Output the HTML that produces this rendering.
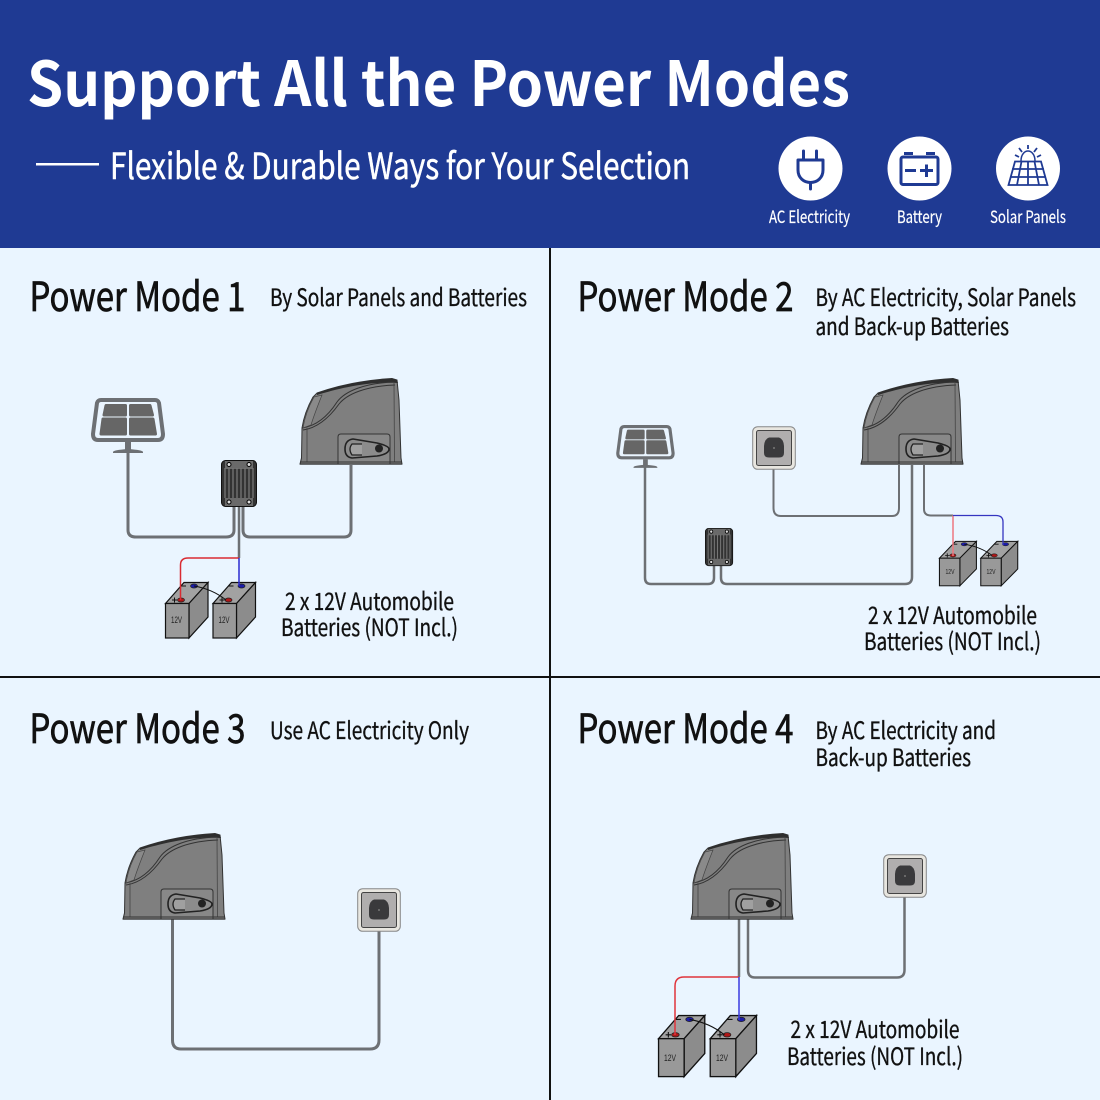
<!DOCTYPE html>
<html><head><meta charset="utf-8"><style>
html,body{margin:0;padding:0;background:#eaf5ff}
svg{display:block}
text{font-family:"Liberation Sans","Noto Sans CJK SC",sans-serif}
.n{font-family:"Noto Sans CJK SC","Liberation Sans",sans-serif}
.h{font-size:40px;fill:#111;stroke:#111;stroke-width:.7px}
.s{font-size:24px;fill:#111;stroke:#111;stroke-width:.35px}
.l{font-size:17px;fill:#fff;stroke:#fff;stroke-width:.2px}
.w{fill:none;stroke:#6d7074;stroke-width:3}
.t{fill:none;stroke:#6d7074;stroke-width:2}
.v{font-family:"Liberation Sans",sans-serif;font-size:9px;fill:#222;text-anchor:middle}
</style></head><body>
<svg width="1100" height="1100" viewBox="0 0 1100 1100" xmlns="http://www.w3.org/2000/svg">
<defs>
<g id="motor">
<path d="M300 464L301.500 458L302 428C304 415 308 406 313 397L317 393C340 385 365 380 392 378.500L397 380L399 400L401 458L402 464Z" fill="#7f7f7f" stroke="#333" stroke-width="1"/>
<path d="M317 393C340 385 365 380 392 378.500L397 380L398 383C370 381 340 388 317 395Z" fill="#2e2e2e"/>
<path d="M302 428C316 426 328 416 337 402C345 391 365 383 394 382" fill="none" stroke="#333" stroke-width="1"/>
<path d="M303 430C317 428 329 418 339 404C347 394 366 386 395 385" fill="none" stroke="#333" stroke-width="1"/>
<path d="M303 428C305 415 309 406 314 397L322 395C318 405 314 415 311 425Z" fill="#8a8a8a" stroke="#444" stroke-width=".7"/>
<path d="M307 462L307 428M394 383L394.500 462" stroke="#444" stroke-width=".8" fill="none"/>
<path d="M338 464L338 437Q338 434 341 434L387 434Q390 434 390 437L390 464" fill="#888" stroke="#333" stroke-width="1"/>
<path d="M353 439L377 443Q389 446 389 449Q389 454 377 456L352 458Q345 457 345 449Q345 440 353 439Z" fill="#8c8c8c" stroke="#222" stroke-width="1.600"/>
<path d="M362 444L352 444Q348 449 352 455L362 455" fill="#a0a0a0" stroke="#222" stroke-width="1.300"/>
<circle cx="379" cy="448.500" r="4" fill="#222"/>
<rect x="300" y="461.500" width="102" height="1" fill="#333"/>
<rect x="300" y="463.500" width="102" height="1.200" fill="#333"/>
</g>
<g id="panel">
<path d="M101 400L155 400Q158 400 159 403L163 434Q163 440 158 440L98 440Q93 440 93 434L97 403Q98 400 101 400Z" fill="#eaf5ff" stroke="#6d7074" stroke-width="4"/>
<g fill="#666" stroke="#666" stroke-width="3" stroke-linejoin="round">
<path d="M106 405.500L125.500 405.500L125.500 415L104 415Z"/>
<path d="M130.500 405.500L150 405.500L152.500 415L130.500 415Z"/>
<path d="M103 419L125.500 419L125.500 434L101 434Z"/>
<path d="M130.500 419L153 419L155.500 434L130.500 434Z"/>
</g>
<rect x="125" y="442" width="6" height="8" fill="#6d7074"/>
<path d="M113 452Q113 450 128 449Q143 450 143 452L143 453L113 453Z" fill="#6d7074"/>
</g>
<g id="ctrl">
<rect x="221.500" y="460.500" width="35" height="46" rx="4" fill="#333" stroke="#111" stroke-width="1"/>
<rect x="225" y="461" width="28" height="8" fill="#6a6a6a"/>
<rect x="225" y="498" width="28" height="8" fill="#6a6a6a"/>
<path d="M225 468V498M229 468V498M233 468V498M237 468V498M241 468V498M245 468V498M249 468V498M253 468V498" stroke="#777" stroke-width="1.300"/>
<circle cx="229" cy="464.500" r="2" fill="#ddd" stroke="#000"/><circle cx="249" cy="464.500" r="2" fill="#ddd" stroke="#000"/>
<circle cx="229" cy="502" r="2" fill="#ddd" stroke="#000"/><circle cx="249" cy="502" r="2" fill="#ddd" stroke="#000"/>
</g>
<g id="socket">
<rect x="0.700" y="0.700" width="42.600" height="42.600" rx="5" fill="#e8e6e0" stroke="#888" stroke-width="1"/>
<rect x="4.500" y="4.500" width="35" height="35" rx="2" fill="#b0aeae" stroke="#444" stroke-width="1"/>
<path d="M17 11.500L27 11.500Q31.500 13 32 20L32 27Q32 31.500 27 31.500L17 31.500Q12 31.500 12 27L12 20Q12.500 13 17 11.500Z" fill="#3a3a3c"/>
<circle cx="22" cy="22" r="1" fill="#777"/>
</g>
<g id="bat">
<path d="M165.500 603.500L184 582.500L208 582.500L189 603.500Z" fill="#a2a2a2" stroke="#111" stroke-width="1.200"/>
<path d="M189 603.500L208 582.500L208 617L189 638Z" fill="#8c8c8c" stroke="#111" stroke-width="1.200"/>
<rect x="165.500" y="603.500" width="23.500" height="34.500" fill="#999" stroke="#111" stroke-width="1.200"/>
<ellipse cx="181" cy="600" rx="3.500" ry="2" fill="#b01818" stroke="#222" stroke-width=".7"/>
<ellipse cx="194" cy="586" rx="3.500" ry="2" fill="#1c1ca8" stroke="#222" stroke-width=".7"/>
<path d="M172 600h5M174.500 597.500v5M186 586h-5" stroke="#111" stroke-width="1"/>
</g>
<g id="bats">
<use href="#bat"/>
<use href="#bat" x="47.500"/>
<path d="M194 586C206 588 216 592 226 600" fill="none" stroke="#111" stroke-width="1"/>
</g>
</defs>

<rect width="1100" height="1100" fill="#eaf5ff"/>
<rect width="1100" height="248" fill="#1f3a93"/>
<rect x="549" y="248" width="2" height="852" fill="#111"/>
<rect y="676" width="1100" height="2" fill="#111"/>

<text class="n" x="27" y="106" font-size="62" font-weight="700" fill="#fff" textLength="823" lengthAdjust="spacingAndGlyphs">Support All the Power Modes</text>
<rect x="36" y="163" width="63" height="2.500" fill="#fff"/>
<text class="n" x="110" y="179" font-size="36" fill="#fff" stroke="#fff" stroke-width=".5" textLength="580" lengthAdjust="spacingAndGlyphs">Flexible &amp; Durable Ways for Your Selection</text>

<circle cx="810.500" cy="168.500" r="32" fill="#fff"/>
<circle cx="919.500" cy="168.500" r="32" fill="#fff"/>
<circle cx="1028" cy="168.500" r="32" fill="#fff"/>
<g fill="none" stroke="#1f3a93" stroke-width="3">
<path d="M803.500 151V159M816.500 151V159" stroke-linecap="round"/>
<path d="M798 160H823V170C823 178 817 182.500 810.500 182.500C804 182.500 798 178 798 170ZM810.500 183V189" stroke-linejoin="round" stroke-linecap="round"/>
<rect x="901" y="157" width="37" height="27.500" rx="2"/>
<path d="M904 153.500H913M926 153.500H935M905 170.500H916M920 170.500H933M926.500 164.500V177"/>
<path d="M1015 161.500H1041L1047.500 185H1008.500ZM1012 169H1044M1010.500 177H1045.500M1021.500 161.500L1017 185M1028 161.500V185M1034.500 161.500L1039 185" stroke-width="1.800"/>
<path d="M1021 161C1021 154 1025 151 1028 151C1031 151 1035 154 1035 161" stroke-width="1.500"/>
<path d="M1028 145V149M1019 148L1022 152M1037 148L1034 152M1015 155L1019 157M1041 155L1037 157" stroke-width="1.800"/>
</g>
<text class="n l" x="769" y="223" textLength="81" lengthAdjust="spacingAndGlyphs">AC Electricity</text>
<text class="n l" x="897" y="223" textLength="45" lengthAdjust="spacingAndGlyphs">Battery</text>
<text class="n l" x="990" y="223" textLength="76" lengthAdjust="spacingAndGlyphs">Solar Panels</text>

<!-- Headings -->
<text class="n h" x="29.500" y="311" textLength="216" lengthAdjust="spacingAndGlyphs">Power Mode 1</text>
<text class="n s" x="270" y="306" textLength="257" lengthAdjust="spacingAndGlyphs">By Solar Panels and Batteries</text>
<text class="n h" x="577.500" y="311" textLength="216" lengthAdjust="spacingAndGlyphs">Power Mode 2</text>
<text class="n s" x="815.500" y="306" textLength="260.500" lengthAdjust="spacingAndGlyphs">By AC Electricity, Solar Panels</text>
<text class="n s" x="815.500" y="335" textLength="193.500" lengthAdjust="spacingAndGlyphs">and Back-up Batteries</text>
<text class="n h" x="29.500" y="743" textLength="216" lengthAdjust="spacingAndGlyphs">Power Mode 3</text>
<text class="n s" x="270" y="739" textLength="199" lengthAdjust="spacingAndGlyphs">Use AC Electricity Only</text>
<text class="n h" x="577.500" y="743" textLength="216" lengthAdjust="spacingAndGlyphs">Power Mode 4</text>
<text class="n s" x="815.500" y="739" textLength="180.500" lengthAdjust="spacingAndGlyphs">By AC Electricity and</text>
<text class="n s" x="815.500" y="766" textLength="155.500" lengthAdjust="spacingAndGlyphs">Back-up Batteries</text>

<text class="n s" x="285" y="610" textLength="169" lengthAdjust="spacingAndGlyphs">2 x 12V Automobile</text>
<text class="n s" x="281" y="636" textLength="177" lengthAdjust="spacingAndGlyphs">Batteries (NOT Incl.)</text>
<text class="n s" x="868" y="624" textLength="169" lengthAdjust="spacingAndGlyphs">2 x 12V Automobile</text>
<text class="n s" x="864" y="650" textLength="177" lengthAdjust="spacingAndGlyphs">Batteries (NOT Incl.)</text>
<text class="n s" x="790.500" y="1038" textLength="169" lengthAdjust="spacingAndGlyphs">2 x 12V Automobile</text>
<text class="n s" x="787" y="1065" textLength="176" lengthAdjust="spacingAndGlyphs">Batteries (NOT Incl.)</text>

<!-- Mode 1 -->
<path class="w" d="M128 450V530Q128 537 136 537H226Q234 537 234 530V505"/>
<path class="w" d="M243 505V530Q243 537 250 537H344Q351 537 351 530V465"/>
<path class="t" style="stroke-width:2.500px" d="M239 505V558"/>
<use href="#panel"/>
<use href="#motor"/>
<use href="#ctrl"/>
<use href="#bats"/>
<path d="M239 558H188Q180.500 558 180.500 565V600" fill="none" stroke="#d92b32" stroke-width="1.500"/>
<path d="M239 558V586" fill="none" stroke="#2a2ad0" stroke-width="1.500"/>
<text class="v" x="176.500" y="623" textLength="11" lengthAdjust="spacingAndGlyphs">12V</text>
<text class="v" x="224" y="623" textLength="11" lengthAdjust="spacingAndGlyphs">12V</text>

<!-- Mode 2 -->
<path class="t" style="stroke-width:2.500px" d="M645 462V578Q645 584 651 584H708Q714 584 714 578V565"/>
<path class="t" style="stroke-width:2.500px" d="M721 565V578Q721 584 727 584H905Q912 584 912 577V465"/>
<path class="t" d="M773.500 455V508Q773.500 516 781 516H892Q899 516 899 508V465"/>
<path class="t" d="M924 465V509Q924 515.500 931 515.500H953"/>
<use href="#panel" transform="translate(617 425) scale(.79 .78) translate(-92 -398)"/>
<use href="#socket" x="752" y="426"/>
<use href="#motor" x="561"/>
<use href="#ctrl" transform="translate(705 528) scale(.78 .81) translate(-221 -460)"/>
<use href="#bats" transform="translate(939 541) scale(.87 .8) translate(-165 -582)"/>
<path d="M953 515.500V556" fill="none" stroke="#ee7780" stroke-width="1.500"/>
<path d="M953 515.500H996Q1003 515.500 1003 522V545" fill="none" stroke="#3535c0" stroke-width="1.300"/>
<text class="v" x="950" y="574" style="font-size:7px" textLength="9" lengthAdjust="spacingAndGlyphs">12V</text>
<text class="v" x="991" y="574" style="font-size:7px" textLength="9" lengthAdjust="spacingAndGlyphs">12V</text>

<!-- Mode 3 -->
<path class="w" d="M172.500 919V1040Q172.500 1049 181 1049H370Q379 1049 379 1040V925"/>
<use href="#motor" x="-177" y="455"/>
<use href="#socket" x="357" y="888"/>

<!-- Mode 4 -->
<path class="w" style="stroke-width:2.500px" d="M748 919V970Q748 977.500 755 977.500H897Q904.500 977.500 904.500 970V885"/>
<path class="t" style="stroke-width:2.500px" d="M739 919V977"/>
<use href="#motor" x="391" y="455"/>
<use href="#socket" x="883" y="854"/>
<use href="#bats" transform="translate(658 1015) scale(1.088 1.1) translate(-165 -582)"/>
<path d="M739 977H684Q675 977 675 986V1035" fill="none" stroke="#e0343c" stroke-width="1.500"/>
<path d="M739 977V1020" fill="none" stroke="#3a3ae0" stroke-width="1.500"/>
<text class="v" x="670" y="1061" textLength="12" lengthAdjust="spacingAndGlyphs">12V</text>
<text class="v" x="722" y="1061" textLength="12" lengthAdjust="spacingAndGlyphs">12V</text>
</svg>
</body></html>
